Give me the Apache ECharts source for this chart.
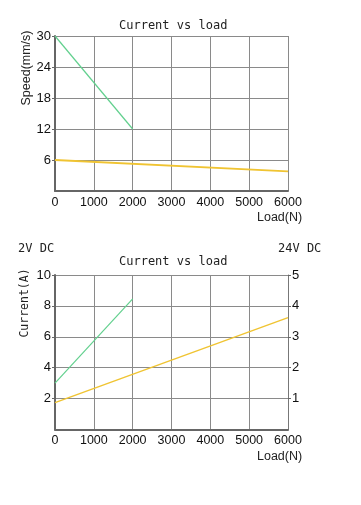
<!DOCTYPE html>
<html><head><meta charset="utf-8">
<script src="https://cdn.jsdelivr.net/npm/echarts@6/dist/echarts.min.js"></script>
<style>html,body{margin:0;padding:0;background:#fff}#c{width:361px;height:505px}</style>
</head><body><div id="c"></div>
<script>
// X values (load, N)
const loadTop = [0, 2000];
const loadTopLong = [0, 6000];
const speed2V = [30, 12];
const speed24V = [6, 3.8];
const current2V = [3.0, 8.45];
const current24V = [0.87, 3.62];
const xTicks = [0, 1000, 2000, 3000, 4000, 5000, 6000];
const speedTicks = [6, 12, 18, 24, 30];
const currentTicks = [2, 4, 6, 8, 10];
const currentRightTicks = [1, 2, 3, 4, 5];

const mono = 'DejaVu Sans Mono';
const sans = 'Liberation Sans';
const gridLine = {show: true, lineStyle: {color: '#8a8a8a', width: 1}};
const axisLine = {show: true, lineStyle: {color: '#666', width: 2}};
const plain = v => String(v);

function xAxis(gi) {
  return {
    type: 'value', gridIndex: gi, min: 0, max: 6000, interval: 1000,
    axisLine: axisLine, axisTick: {show: false}, splitLine: gridLine,
    axisLabel: {color: '#111', fontFamily: sans, fontSize: 12.5, margin: 5, formatter: plain}
  };
}
const ts = (f, s) => ({fontFamily: f, fontSize: s, fontWeight: 'normal', color: '#222'});
const green = '#62d08e', yellow = '#f0c432';
const chart = echarts.init(document.getElementById('c'), null, {renderer: 'canvas'});
chart.setOption({
  animation: false,
  title: [
    {text: 'Current vs load', left: 119, top: 20, padding: 0, textStyle: ts(mono, 12)},
    {text: 'Current vs load', left: 119, top: 256, padding: 0, textStyle: ts(mono, 12)},
    {text: '2V DC', left: 18, top: 243, padding: 0, textStyle: ts(mono, 12)},
    {text: '24V DC', left: 278, top: 243, padding: 0, textStyle: ts(mono, 12)},
    {text: 'Load(N)', left: 257, top: 211, padding: 0, textStyle: ts(sans, 12.5)},
    {text: 'Load(N)', left: 257, top: 450, padding: 0, textStyle: ts(sans, 12.5)}
  ],
  graphic: [
    {type: 'text', x: 27, y: 68, rotation: Math.PI / 2,
     style: {text: 'Speed(mm/s)', fontFamily: sans, fontSize: 12.5, fill: '#222', align: 'center', verticalAlign: 'middle'}},
    {type: 'text', x: 25, y: 303, rotation: Math.PI / 2,
     style: {text: 'Current(A)', fontFamily: mono, fontSize: 11.5, fill: '#222', align: 'center', verticalAlign: 'middle'}}
  ],
  grid: [
    {left: 55, right: 73, top: 36, height: 155},
    {left: 55, right: 73, top: 275, height: 154.5}
  ],
  xAxis: [xAxis(0), xAxis(1)],
  yAxis: [
    {type: 'value', gridIndex: 0, min: 0, max: 30, interval: 6,
     axisLine: axisLine, axisTick: {show: true, length: 3, lineStyle: {color: '#666'}}, splitLine: gridLine,
     axisLabel: {color: '#111', fontFamily: sans, fontSize: 13, margin: 4, showMinLabel: false}},
    {type: 'value', gridIndex: 1, min: 0, max: 10, interval: 2,
     axisLine: axisLine, axisTick: {show: true, length: 3, lineStyle: {color: '#666'}}, splitLine: gridLine,
     axisLabel: {color: '#111', fontFamily: sans, fontSize: 13, margin: 4, showMinLabel: false}},
    {type: 'value', gridIndex: 1, position: 'right', min: 0, max: 5, interval: 1,
     axisLine: {show: true, lineStyle: {color: '#777', width: 1}}, axisTick: {show: true, length: 3, lineStyle: {color: '#666'}}, splitLine: {show: false},
     axisLabel: {color: '#111', fontFamily: sans, fontSize: 13, margin: 4, showMinLabel: false}}
  ],
  series: [
    {type: 'line', xAxisIndex: 0, yAxisIndex: 0, data: loadTop.map((x, i) => [x, speed2V[i]]), symbol: 'none', lineStyle: {color: green, width: 1.2}},
    {type: 'line', xAxisIndex: 0, yAxisIndex: 0, data: loadTopLong.map((x, i) => [x, speed24V[i]]), symbol: 'none', lineStyle: {color: yellow, width: 1.8}},
    {type: 'line', xAxisIndex: 1, yAxisIndex: 1, data: loadTop.map((x, i) => [x, current2V[i]]), symbol: 'none', lineStyle: {color: green, width: 1.2}},
    {type: 'line', xAxisIndex: 1, yAxisIndex: 2, data: loadTopLong.map((x, i) => [x, current24V[i]]), symbol: 'none', lineStyle: {color: yellow, width: 1.4}}
  ]
});
</script></body></html>
